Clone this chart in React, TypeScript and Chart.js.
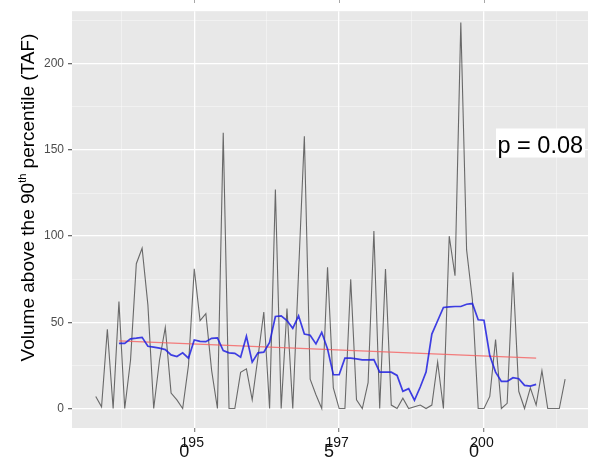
import { useEffect, useRef } from "react";
import { Chart, registerables } from "chart.js";

Chart.register(...registerables);

const years = [
  1933, 1934, 1935, 1936, 1937, 1938, 1939, 1940, 1941, 1942,
  1943, 1944, 1945, 1946, 1947, 1948, 1949, 1950, 1951, 1952,
  1953, 1954, 1955, 1956, 1957, 1958, 1959, 1960, 1961, 1962,
  1963, 1964, 1965, 1966, 1967, 1968, 1969, 1970, 1971, 1972,
  1973, 1974, 1975, 1976, 1977, 1978, 1979, 1980, 1981, 1982,
  1983, 1984, 1985, 1986, 1987, 1988, 1989, 1990, 1991, 1992,
  1993, 1994, 1995, 1996, 1997, 1998, 1999, 2000, 2001, 2002,
  2003, 2004, 2005, 2006, 2007, 2008, 2009, 2010, 2011, 2012,
  2013, 2014,
];

const volume = [
  7, 1, 46, 0, 62, 0, 28, 84, 93, 60,
  0, 28, 47, 9, 5, 0, 25, 81, 51, 55,
  22, 0, 160, 0, 0, 21, 23, 5, 30, 56,
  0, 127, 0, 58, 0, 79, 158, 17, 8, 0,
  82, 12, 0, 0, 75, 5, 0, 15, 103, 0,
  81, 2, 0, 6, 0, 1, 2, 0, 2, 27,
  0, 100, 77, 224, 92, 63, 0, 0, 7, 40,
  0, 3, 79, 10, 0, 12, 2, 22, 0, 0,
  0, 17,
];

const avgYears = [
  1937, 1938, 1939, 1940, 1941, 1942, 1943, 1944, 1945, 1946,
  1947, 1948, 1949, 1950, 1951, 1952, 1953, 1954, 1955, 1956,
  1957, 1958, 1959, 1960, 1961, 1962, 1963, 1964, 1965, 1966,
  1967, 1968, 1969, 1970, 1971, 1972, 1973, 1974, 1975, 1976,
  1977, 1978, 1979, 1980, 1981, 1982, 1983, 1984, 1985, 1986,
  1987, 1988, 1989, 1990, 1991, 1992, 1993, 1994, 1995, 1996,
  1997, 1998, 1999, 2000, 2001, 2002, 2003, 2004, 2005, 2006,
  2007, 2008, 2009,
];

const movingAvg = [
  37.8, 37.8, 40.4, 40.8, 41.3, 36.1, 35.6, 35.0, 34.2, 31.1,
  30.2, 32.3, 29.2, 39.8, 39.0, 38.8, 40.7, 41.0, 33.6, 32.3,
  32.0, 29.8, 41.9, 26.9, 32.3, 32.7, 38.4, 53.4, 53.8, 51.0,
  46.5, 53.8, 43.2, 42.5, 37.5, 44.2, 34.6, 19.6, 19.6, 29.2,
  29.2, 28.8, 28.2, 28.2, 28.4, 21.1, 21.1, 21.1, 19.2, 10.0,
  11.5, 4.8, 12.5, 21.1, 43.2, 50.9, 58.6, 59.0, 59.2, 59.2,
  60.5, 60.9, 51.5, 51.2, 30.7, 21.1, 15.7, 15.7, 17.9, 17.3,
  13.4, 13.0, 14.0,
];

const trendYears = [1937, 2009];
const trendValues = [39.2, 29.2];

const yTicks = [0, 25, 50, 75, 100, 125, 150, 175, 200, 225];
const xTicks = [1937.5, 1950, 1962.5, 1975, 1987.5, 2000, 2012.5];
const xMajor = [1950, 1975, 2000];
const pLabel = "p = 0.08";
const yTitleMain = "Volume above the 90";
const yTitleSup = "th";
const yTitleRest = " percentile (TAF)";

const FONT = '"Liberation Sans", Arial, Helvetica, sans-serif';

const decorPlugin = {
  id: "decor",
  beforeDraw(chart: any) {
    const { ctx, chartArea: a } = chart;
    ctx.save();
    ctx.fillStyle = "#FFFFFF";
    ctx.fillRect(0, 0, chart.width, chart.height);
    ctx.fillStyle = "#E8E8E8";
    ctx.fillRect(a.left, a.top, a.right - a.left, a.bottom - a.top);
    ctx.restore();
  },
  afterDraw(chart: any) {
    const { ctx, chartArea: a } = chart;
    const xs = chart.scales.x;
    ctx.save();

    // small tick marks at the very top (from the panel above)
    ctx.strokeStyle = "#A8A8A8";
    ctx.lineWidth = 1;
    xMajor.forEach((v) => {
      const px = Math.round(xs.getPixelForValue(v)) + 0.5;
      ctx.beginPath();
      ctx.moveTo(px, 0);
      ctx.lineTo(px, 3);
      ctx.stroke();
    });

    // x tick labels (wrapped: "195" / "0")
    ctx.fillStyle = "#111111";
    ctx.textAlign = "center";
    ctx.textBaseline = "alphabetic";
    xMajor.forEach((v) => {
      const s = String(v);
      const px = xs.getPixelForValue(v);
      ctx.font = `14px ${FONT}`;
      ctx.fillText(s.slice(0, 3), px - 2, a.bottom + 18.5);
      ctx.font = `18px ${FONT}`;
      ctx.fillText(s.slice(3), px - 10, a.bottom + 28.5);
    });

    // y axis title with superscript
    ctx.fillStyle = "#000000";
    ctx.translate(34, 197.5);
    ctx.rotate(-Math.PI / 2);
    ctx.textAlign = "left";
    const mainFont = `19px ${FONT}`;
    const supFont = `11px ${FONT}`;
    ctx.font = mainFont;
    const w1 = ctx.measureText(yTitleMain).width;
    const w3 = ctx.measureText(yTitleRest).width;
    ctx.font = supFont;
    const w2 = ctx.measureText(yTitleSup).width;
    let x = -(w1 + w2 + w3) / 2;
    ctx.font = mainFont;
    ctx.fillText(yTitleMain, x, 0);
    x += w1;
    ctx.font = supFont;
    ctx.fillText(yTitleSup, x, -8);
    x += w2;
    ctx.font = mainFont;
    ctx.fillText(yTitleRest, x, 0);
    ctx.restore();

    // p-value label
    ctx.save();
    ctx.fillStyle = "#FFFFFF";
    ctx.fillRect(a.right - 92, 128.5, 89, 29);
    ctx.fillStyle = "#000000";
    ctx.font = `23.5px ${FONT}`;
    ctx.textAlign = "left";
    ctx.textBaseline = "alphabetic";
    ctx.fillText(pLabel, a.right - 90.5, 152.5);
    ctx.restore();
  },
};

export default function App() {
  const ref = useRef<HTMLCanvasElement | null>(null);

  useEffect(() => {
    if (!ref.current) return;
    document.body.style.margin = "0";
    const chart = new Chart(ref.current, {
      type: "line",
      data: {
        datasets: [
          {
            label: "moving average",
            data: avgYears.map((yr, i) => ({ x: yr, y: movingAvg[i] })),
            borderColor: "rgba(30,30,225,0.85)",
            borderWidth: 1.7,
            pointRadius: 0,
            tension: 0,
            fill: false,
            order: 1,
          },
          {
            label: "trend",
            data: trendYears.map((yr, i) => ({ x: yr, y: trendValues[i] })),
            borderColor: "rgba(245,95,95,0.8)",
            borderWidth: 1.2,
            pointRadius: 0,
            tension: 0,
            fill: false,
            order: 2,
          },
          {
            label: "volume",
            data: years.map((yr, i) => ({ x: yr, y: volume[i] })),
            borderColor: "rgba(20,20,20,0.6)",
            borderWidth: 1.1,
            pointRadius: 0,
            tension: 0,
            fill: false,
            order: 3,
          },
        ],
      },
      options: {
        animation: false,
        responsive: false,
        maintainAspectRatio: false,
        layout: { padding: { left: 0, top: 8, right: 2, bottom: 0 } },
        plugins: {
          legend: { display: false },
          tooltip: { enabled: false },
        },
        scales: {
          x: {
            type: "linear",
            min: 1928.9,
            max: 2017.95,
            afterBuildTicks: (scale: any) => {
              scale.ticks = xTicks.map((v) => ({ value: v }));
            },
            afterFit: (scale: any) => {
              scale.height = 32;
            },
            ticks: { display: false },
            border: { display: false },
            grid: {
              color: (c: any) =>
                c.tick && c.tick.value % 25 === 0 ? "#FFFFFF" : "rgba(255,255,255,0.55)",
              lineWidth: (c: any) => (c.tick && c.tick.value % 25 === 0 ? 1.3 : 0.7),
              tickColor: (c: any) =>
                c.tick && c.tick.value % 25 === 0 ? "#8A8A8A" : "rgba(0,0,0,0)",
              tickLength: 4,
              drawTicks: true,
            },
          },
          y: {
            type: "linear",
            min: -11.3,
            max: 230.5,
            afterBuildTicks: (scale: any) => {
              scale.ticks = yTicks.map((v) => ({ value: v }));
            },
            afterFit: (scale: any) => {
              scale.width = 72;
            },
            ticks: {
              autoSkip: false,
              padding: 4,
              color: "#4D4D4D",
              font: { family: FONT, size: 12 },
              callback: (v: any) => (Number(v) % 50 === 0 ? String(v) : ""),
            },
            border: { display: false },
            grid: {
              color: (c: any) =>
                c.tick && c.tick.value % 50 === 0 ? "#FFFFFF" : "rgba(255,255,255,0.55)",
              lineWidth: (c: any) => (c.tick && c.tick.value % 50 === 0 ? 1.3 : 0.7),
              tickColor: (c: any) =>
                c.tick && c.tick.value % 50 === 0 ? "#6A6A6A" : "rgba(0,0,0,0)",
              tickLength: 4,
              drawTicks: true,
            },
          },
        },
      },
      plugins: [decorPlugin],
    } as any);
    return () => chart.destroy();
  }, []);

  return (
    <div style={{ position: "fixed", left: 0, top: 0, width: 590, height: 460 }}>
      <canvas ref={ref} width={590} height={460} style={{ width: 590, height: 460, display: "block" }} />
    </div>
  );
}
